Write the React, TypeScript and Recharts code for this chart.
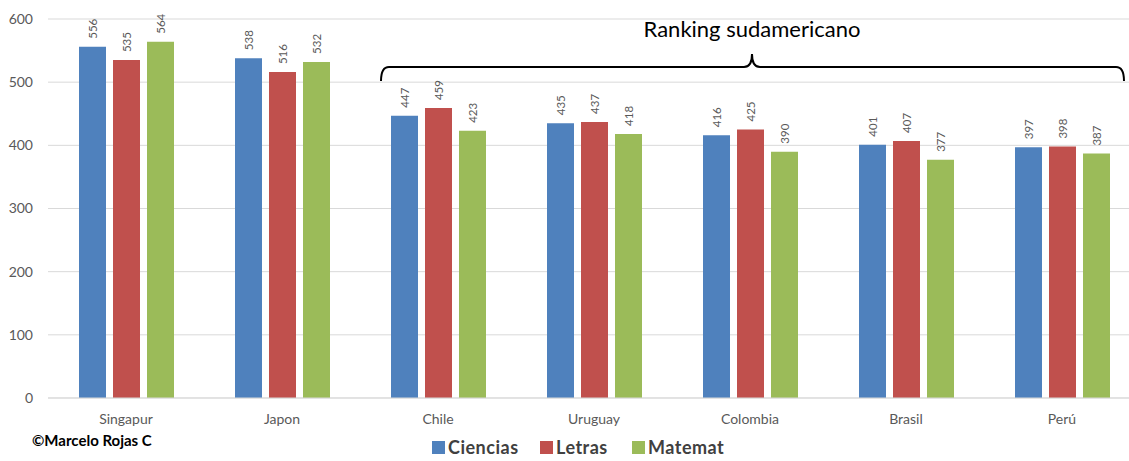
import { BarChart, Bar, XAxis, YAxis, CartesianGrid, Legend, LabelList } from "recharts"

const paises = ["Singapur", "Japon", "Chile", "Uruguay", "Colombia", "Brasil", "Perú"]
const ciencias = [556, 538, 447, 435, 416, 401, 397]
const letras = [535, 516, 459, 437, 425, 407, 398]
const matemat = [564, 532, 423, 418, 390, 377, 387]
const yTicks = [0, 100, 200, 300, 400, 500, 600]

const SERIES = [
  { key: "Ciencias", color: "#4F81BD" },
  { key: "Letras", color: "#C0504D" },
  { key: "Matemat", color: "#9BBB59" },
]

// x de cada cuadrito de la leyenda
const legendX = [432, 540, 632]

const FONT = "Lato, 'Open Sans', sans-serif"

const data = paises.map((p, i) => ({
  pais: p,
  Ciencias: ciencias[i],
  Letras: letras[i],
  Matemat: matemat[i],
}))

function VerticalLabel(props: any) {
  const { x, y, width, value } = props
  const cx = x + width / 2
  const cy = y - 8
  return (
    <text
      x={cx}
      y={cy}
      transform={`rotate(-90 ${cx} ${cy})`}
      textAnchor="start"
      dy="0.35em"
      fontSize={11.5}
      fontFamily={FONT}
      fill="#595959"
    >
      {value}
    </text>
  )
}

function LegendContent() {
  return (
    <div style={{ position: "relative", height: 27 }}>
      {SERIES.map((s, i) => (
        <div
          key={s.key}
          style={{ position: "absolute", left: legendX[i], top: 2, display: "flex", alignItems: "center", height: 22 }}
        >
          <span style={{ width: 13, height: 13, background: s.color, display: "inline-block", marginRight: 3 }} />
          <span style={{ fontFamily: FONT, fontWeight: 700, fontSize: 18, letterSpacing: 0.5, color: "#404040", lineHeight: "22px" }}>
            {s.key}
          </span>
        </div>
      ))}
    </div>
  )
}

export default function App() {
  return (
    <div style={{ position: "absolute", left: 0, top: 0, width: 1129, height: 461, overflow: "hidden", background: "#fff" }}>
      <BarChart
        width={1140}
        height={461}
        data={data}
        margin={{ top: 19, right: 0, left: 0, bottom: 0 }}
        barGap={7}
        barSize={27}
      >
        <CartesianGrid vertical={false} stroke="#d9d9d9" />
        <XAxis
          dataKey="pais"
          height={36}
          tickLine={false}
          axisLine={{ stroke: "#d9d9d9" }}
          tick={{ fontSize: 14, fill: "#595959", fontFamily: FONT }}
          tickMargin={10}
        />
        <YAxis
          width={48}
          domain={[0, 600]}
          ticks={yTicks}
          tickLine={false}
          axisLine={false}
          tick={{ fontSize: 14, fill: "#595959", fontFamily: FONT }}
          tickMargin={9}
        />
        <Legend verticalAlign="bottom" height={27} content={<LegendContent />} wrapperStyle={{ left: 0, width: 1129 }} />
        {SERIES.map((s) => (
          <Bar key={s.key} dataKey={s.key} fill={s.color} isAnimationActive={false}>
            <LabelList dataKey={s.key} content={<VerticalLabel />} />
          </Bar>
        ))}
      </BarChart>
      <svg width={1129} height={461} style={{ position: "absolute", left: 0, top: 0, pointerEvents: "none" }}>
        <text x={752} y={37} textAnchor="middle" fontSize={22} fontFamily={FONT} fill="#000">
          Ranking sudamericano
        </text>
        <path
          d="M381 81 Q381 67 389 67 L744 67 Q752 67 752 54 Q752 67 760 67 L1116 67 Q1124 67 1124 81"
          fill="none"
          stroke="#000"
          strokeWidth={2}
        />
      </svg>
      <div style={{ position: "absolute", left: 32, top: 431, fontFamily: FONT, fontWeight: 700, fontSize: 15, color: "#000" }}>
        ©Marcelo Rojas C
      </div>
    </div>
  )
}
